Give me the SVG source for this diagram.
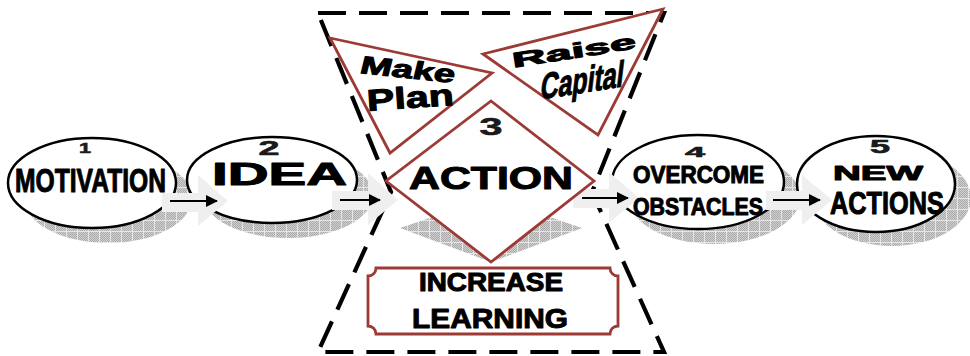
<svg xmlns="http://www.w3.org/2000/svg" width="970" height="356" viewBox="0 0 970 356">
  <defs>
    <!-- fine dither used inside the drop shadows -->
    <pattern id="dither" width="2" height="2" patternUnits="userSpaceOnUse">
      <rect width="2" height="2" fill="#aaaaaa"/>
      <rect width="1" height="1" fill="#d0d0d0"/>
      <rect x="1" y="1" width="1" height="1" fill="#d0d0d0"/>
    </pattern>
    <!-- light grid laid over the dither -->
    <pattern id="grid" width="11" height="11" patternUnits="userSpaceOnUse">
      <rect width="11" height="11" fill="url(#dither)"/>
      <path d="M0 0.5H11M0.5 0V11" stroke="#e6e6e6" stroke-width="1" fill="none"/>
    </pattern>
    <marker id="head" viewBox="0 0 12 12" refX="11" refY="6" markerWidth="12" markerHeight="12" markerUnits="userSpaceOnUse" orient="auto">
      <path d="M0 0L12 6L0 12Z" fill="#000"/>
    </marker>
  </defs>
  <style>
    .shadow { fill: url(#grid); stroke: none; }
    .oval { fill: #fff; stroke: #000; stroke-width: 2.5; }
    .red { fill: #fff; stroke: #9c3a36; stroke-width: 2.8; stroke-linejoin: miter; }
    .block { fill: #efefef; stroke: none; }
    .line { stroke: #000; stroke-width: 2; fill: none; marker-end: url(#head); }
    .dash { fill: none; stroke: #000; stroke-width: 4.2; stroke-dasharray: 28 13; }
    text { font-family: "Liberation Sans", Arial, sans-serif; font-weight: bold; fill: #000; text-anchor: middle; }
    .heavy { stroke: #000; stroke-width: 1; stroke-linejoin: round; }
    .num { fill: #1a1a1a; stroke: #1a1a1a; stroke-width: 0.6; }
  </style>

  <!-- drop shadows -->
  <g id="shadows">
    <ellipse class="shadow" cx="108" cy="198" rx="84" ry="45"/>
    <ellipse class="shadow" cx="288" cy="195" rx="85" ry="43"/>
    <ellipse class="shadow" cx="714" cy="197" rx="86" ry="47"/>
    <ellipse class="shadow" cx="892" cy="198" rx="79" ry="48"/>
    <path class="shadow" d="M400 228L491 197L582 228L491 262Z" stroke="#f4f4f4" stroke-width="1" stroke-dasharray="2 2"/>
  </g>

  <!-- dashed hourglass frame around step 3 -->
  <g id="frame">
    <path class="dash" d="M318 13H664L592 192L664 352H318L391 192Z"/>
  </g>

  <!-- step 1 -->
  <g id="step1">
    <ellipse class="oval" cx="92" cy="183" rx="84" ry="45"/>
  </g>
  <!-- step 2 -->
  <g id="step2">
    <ellipse class="oval" cx="272" cy="180" rx="85" ry="43"/>
  </g>
  <!-- step 4 -->
  <g id="step4">
    <ellipse class="oval" cx="698" cy="182" rx="86" ry="47"/>
  </g>
  <!-- step 5 -->
  <g id="step5">
    <ellipse class="oval" cx="876" cy="184" rx="79" ry="48"/>
  </g>

  <!-- connectors -->
  <g id="connectors">
    <path class="block" d="M162 193H198V175L228 201L198 226V212H162Z"/>
    <path class="block" d="M332 191H368V173L398 200L368 225V210H332Z"/>
    <path class="block" d="M573 189H609V172L639 198L609 223V208H573Z"/>
    <path class="block" d="M766 191H802V175L832 200L802 225V210H766Z"/>
    <path class="line" d="M170 201H217"/>
    <path class="line" d="M340 200H380"/>
    <path class="line" d="M582 198H628"/>
    <path class="line" d="M773 200H820"/>
  </g>

  <!-- step 3 and its parts -->
  <g id="make-plan">
    <path class="red" d="M330 38L492 73L390 153Z"/>
  </g>
  <g id="raise-capital">
    <path class="red" d="M483 54L663 9L598 135Z"/>
  </g>
  <g id="action">
    <path class="red" d="M491 101L594 181L491 262L386 181Z"/>
  </g>
  <g id="learning">
    <path class="red" d="M376 268H610A8 8 0 0 0 618 276V326A8 8 0 0 0 610 334H376A8 8 0 0 0 368 326V276A8 8 0 0 0 376 268Z"/>
  </g>

  <!-- labels -->
  <g id="labels">
    <text class="num" x="85" y="153" font-size="15" textLength="12" lengthAdjust="spacingAndGlyphs">1</text>
    <text class="heavy" x="90.5" y="192" font-size="33" textLength="151" lengthAdjust="spacingAndGlyphs">MOTIVATION</text>

    <text class="num" x="269" y="155" font-size="21" textLength="21" lengthAdjust="spacingAndGlyphs">2</text>
    <text class="heavy" x="279.5" y="185" font-size="31" textLength="135" lengthAdjust="spacingAndGlyphs">IDEA</text>

    <text class="num" x="491" y="135" font-size="24" textLength="23" lengthAdjust="spacingAndGlyphs">3</text>
    <text class="heavy" x="491" y="189" font-size="31" textLength="164" lengthAdjust="spacingAndGlyphs">ACTION</text>

    <text class="num" x="695" y="157" font-size="15" textLength="20" lengthAdjust="spacingAndGlyphs">4</text>
    <text class="heavy" x="698.5" y="183" font-size="23" textLength="131" lengthAdjust="spacingAndGlyphs">OVERCOME</text>
    <text class="heavy" x="698" y="215" font-size="24" textLength="130" lengthAdjust="spacingAndGlyphs">OBSTACLES</text>

    <text class="num" x="880" y="153" font-size="18" textLength="20" lengthAdjust="spacingAndGlyphs">5</text>
    <text class="heavy" x="878" y="180" font-size="21" textLength="90" lengthAdjust="spacingAndGlyphs">NEW</text>
    <text class="heavy" x="887" y="214" font-size="31" textLength="114" lengthAdjust="spacingAndGlyphs">ACTIONS</text>

    <text class="heavy" x="491" y="291" font-size="25" textLength="144" lengthAdjust="spacingAndGlyphs">INCREASE</text>
    <text class="heavy" x="490" y="328" font-size="28" textLength="156" lengthAdjust="spacingAndGlyphs">LEARNING</text>

    <text class="heavy" transform="translate(406 78) rotate(6) skewX(-8)" font-size="25" textLength="95" lengthAdjust="spacingAndGlyphs">Make</text>
    <text class="heavy" transform="translate(411 108) rotate(-4)" font-size="30" textLength="87" lengthAdjust="spacingAndGlyphs">Plan</text>
    <text class="heavy" transform="translate(575 58) rotate(-9)" font-size="21" textLength="125" lengthAdjust="spacingAndGlyphs">Raise</text>
    <text class="heavy" transform="translate(581 93) rotate(-9) skewX(-16)" font-size="36" textLength="84" lengthAdjust="spacingAndGlyphs">Capital</text>
  </g>
</svg>
